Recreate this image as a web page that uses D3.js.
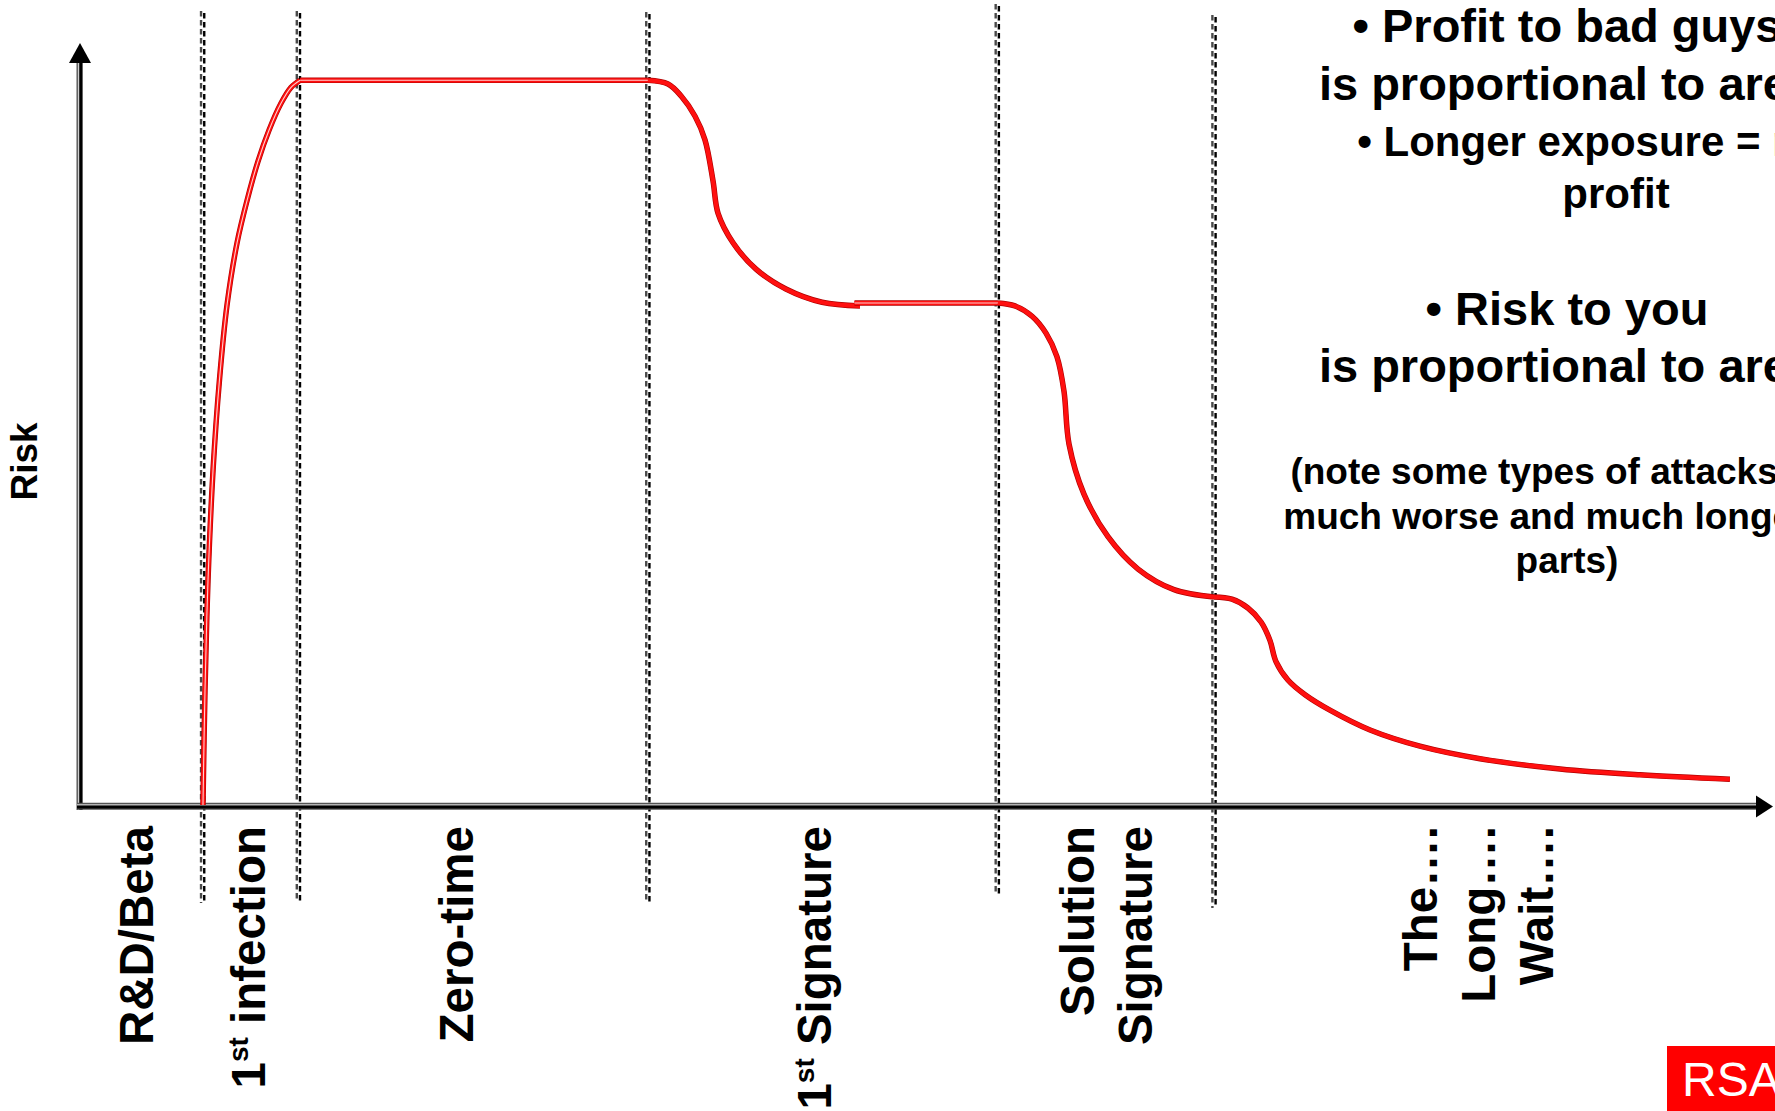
<!DOCTYPE html>
<html>
<head>
<meta charset="utf-8">
<script src="https://cdn.jsdelivr.net/npm/d3@7"></script>
<style>
  html, body { margin: 0; padding: 0; background: #fff; overflow: hidden; }
  svg { display: block; }
  text { font-family: "Liberation Sans", Arial, Helvetica, sans-serif; font-weight: bold; fill: #000; }
</style>
</head>
<body>
<svg id="chart" width="1775" height="1111"></svg>
<script>
// ---- Data -------------------------------------------------------------
// Boundaries between the phases of an attack's life, on a 0–100 time axis
const phaseEdges = [7.3, 13.0, 33.8, 54.6, 67.5];

// Phase names (one entry per printed line)
const phaseLabels = [
  ["R&D/Beta"],
  ["1st infection"],
  ["Zero-time"],
  ["1st Signature"],
  ["Solution", "Signature"],
  ["The\u2026.", "Long\u2026.", "Wait\u2026."]
];

const axisTitle = "Risk";

// Risk over time, one array per drawn stroke: [time, risk]
const riseSeg = [
  [7.32, 0], [7.44, 15.6], [7.62, 30.6], [7.92, 45.6], [8.30, 57.8], [8.75, 68.0],
  [9.35, 76.5], [9.95, 82.3], [10.60, 87.6], [11.25, 91.8], [11.95, 95.4],
  [12.55, 97.6], [13.10, 98.6]
];
const plateau1 = [[13.1, 98.6], [33.8, 98.6]];
const drop1 = [
  [33.81, 98.6], [35.0, 98.1], [35.77, 96.5], [36.61, 93.7], [37.2, 90.5],
  [37.68, 84.9], [37.98, 80.5], [38.87, 76.5], [40.24, 72.9], [42.02, 70.2],
  [44.17, 68.4], [46.43, 67.9]
];
const plateau2 = [[46.1, 68.3], [54.64, 68.3]];
const drop2 = [
  [54.64, 68.3], [55.65, 67.9], [56.67, 66.5], [57.5, 64.2], [58.15, 61.0],
  [58.57, 56.3], [58.87, 49.1], [59.76, 42.3], [61.19, 36.5], [62.98, 32.1],
  [65.12, 29.3], [67.5, 28.3]
];
const drop3 = [
  [67.5, 28.3], [68.57, 28.0], [69.52, 26.8], [70.3, 24.9], [70.83, 22.4],
  [71.19, 19.5], [71.9, 17.0], [72.92, 15.0], [74.4, 12.9], [76.79, 10.2],
  [79.76, 8.0], [83.33, 6.3], [88.1, 4.9], [92.86, 4.1], [98.21, 3.5]
];

// Side notes
const noteLines = [
  "\u2022 Profit to bad guys",
  "is proportional to area",
  "\u2022 Longer exposure = more",
  "profit",
  "\u2022 Risk to you",
  "is proportional to area",
  "(note some types of attacks are",
  "much worse and much longer in",
  "parts)"
];

const logoText = "RSA";

// ---- Layout ------------------------------------------------------------
const svg = d3.select("#chart");
const x = d3.scaleLinear().domain([0, 100]).range([80, 1760]);
const y = d3.scaleLinear().domain([0, 100]).range([805, 70]);

// Phase boundary markers: a pair of fine dashed strokes
const markerTop = [11, 11, 12, 4, 15], markerBottom = [903, 902, 903, 894, 908];
const markers = svg.append("g");
phaseEdges.forEach((e, i) => {
  const px = x(e);
  markers.append("line")
    .attr("x1", px - 1.6).attr("x2", px - 1.6)
    .attr("y1", markerTop[i]).attr("y2", markerBottom[i])
    .attr("stroke", "#4a4a4a").attr("stroke-width", 2.4)
    .attr("stroke-dasharray", "5.5,3.5");
  markers.append("line")
    .attr("x1", px + 1.6).attr("x2", px + 1.6)
    .attr("y1", markerTop[i]).attr("y2", markerBottom[i])
    .attr("stroke", "#000").attr("stroke-width", 2.4)
    .attr("stroke-dasharray", "5.5,3.5").attr("stroke-dashoffset", -2);
});

// Axes: doubled strokes with arrowheads
const axes = svg.append("g");
const x0 = x(0), yBase = y(0);
// vertical
axes.append("line").attr("x1", x0 - 0.5).attr("x2", x0 - 0.5).attr("y1", 60).attr("y2", yBase + 5)
  .attr("stroke", "#555").attr("stroke-width", 6);
axes.append("line").attr("x1", x0 - 1.6).attr("x2", x0 - 1.6).attr("y1", 60).attr("y2", yBase + 5)
  .attr("stroke", "#ddd").attr("stroke-width", 1);
axes.append("line").attr("x1", x0 + 1).attr("x2", x0 + 1).attr("y1", 60).attr("y2", yBase + 5)
  .attr("stroke", "#000").attr("stroke-width", 2.8);
axes.append("path")
  .attr("d", `M${x0},43 L${x0 - 11},63 L${x0 + 11},63 Z`).attr("fill", "#000");
// horizontal
const xEnd = 1758;
axes.append("line").attr("x1", x0 - 3).attr("x2", xEnd).attr("y1", yBase + 1.3).attr("y2", yBase + 1.3)
  .attr("stroke", "#555").attr("stroke-width", 7);
axes.append("line").attr("x1", x0 - 3).attr("x2", xEnd).attr("y1", yBase - 0.2).attr("y2", yBase - 0.2)
  .attr("stroke", "#ddd").attr("stroke-width", 1);
axes.append("line").attr("x1", x0 - 3).attr("x2", xEnd).attr("y1", yBase + 2.2).attr("y2", yBase + 2.2)
  .attr("stroke", "#000").attr("stroke-width", 2.8);
axes.append("path")
  .attr("d", `M1773,${yBase + 1.5} L1756,${yBase - 9.5} L1756,${yBase + 12.5} Z`).attr("fill", "#000");

// Risk curve: layered red stroke; the rise and plateaus keep a pale core
const line = d3.line().x(d => x(d[0])).y(d => y(d[1])).curve(d3.curveCatmullRom.alpha(0.5));
const curve = svg.append("g").attr("fill", "none").attr("stroke-linecap", "butt");
[[riseSeg, true], [plateau1, true], [drop1, false], [plateau2, true], [drop2, false], [drop3, false]]
  .forEach(([seg, core]) => {
    curve.append("path").attr("d", line(seg)).attr("stroke", "#b00000").attr("stroke-width", 5.5);
    curve.append("path").attr("d", line(seg)).attr("stroke", "#ff1010").attr("stroke-width", 4.2);
    if (core) {
      curve.append("path").attr("d", line(seg)).attr("stroke", "#ffd0d0").attr("stroke-width", 1.1);
    }
  });

// Phase labels, rotated, reading bottom to top, hung from a common top line
const labelSize = 47.5, labelTop = 826, lineGap = 58;
const labelNudge = [-5, -3, -17, -9, 0, -9];
const edges = [0, ...phaseEdges, 100];
const labels = svg.append("g");
phaseLabels.forEach((lines, i) => {
  const cx = x((edges[i] + edges[i + 1]) / 2) + labelNudge[i];
  const n = lines.length;
  lines.forEach((str, j) => {
    const bx = cx + (j - (n - 1) / 2) * lineGap + 0.716 * labelSize / 2;
    const t = labels.append("text")
      .attr("transform", `translate(${bx},${labelTop}) rotate(-90)`)
      .attr("text-anchor", "end")
      .style("font-size", labelSize + "px");
    const m = str.match(/^(\d)(st) (.*)$/);
    if (m) {
      t.append("tspan").text(m[1]);
      t.append("tspan").text(m[2]).style("font-size", "28px").attr("dy", -17);
      t.append("tspan").text(" " + m[3]).attr("dy", 17);
    } else {
      t.text(str);
    }
  });
});

// Axis title
svg.append("text")
  .attr("transform", `translate(37,${(y(0) + y(100)) / 2 + 24}) rotate(-90)`)
  .attr("text-anchor", "middle")
  .style("font-size", "37px")
  .text(axisTitle);

// Side notes (centered lines; the right part runs off the page)
const noteStyle = [
  { cx: 1567, base: 42,  size: 47 },
  { cx: 1567, base: 100, size: 47 },
  { cx: 1616, base: 156, size: 42 },
  { cx: 1616, base: 208, size: 42 },
  { cx: 1567, base: 325, size: 47 },
  { cx: 1567, base: 382, size: 47 },
  { cx: 1567, base: 484, size: 37 },
  { cx: 1567, base: 529, size: 37 },
  { cx: 1567, base: 573, size: 37 }
];
const notes = svg.append("g");
noteLines.forEach((str, i) => {
  const s = noteStyle[i];
  notes.append("text")
    .attr("x", s.cx).attr("y", s.base)
    .attr("text-anchor", "middle")
    .style("font-size", s.size + "px")
    .text(str);
});

// Logo block, bottom right
const logo = svg.append("g");
logo.append("rect").attr("x", 1667).attr("y", 1046).attr("width", 120).attr("height", 70).attr("fill", "#ff0000");
logo.append("text").attr("x", 1682).attr("y", 1096)
  .style("font-size", "48px").style("font-weight", "normal").style("fill", "#fff")
  .style("font-family", "'Liberation Sans Narrow', 'Liberation Sans', Arial, sans-serif")
  .text(logoText);
</script>
</body>
</html>
